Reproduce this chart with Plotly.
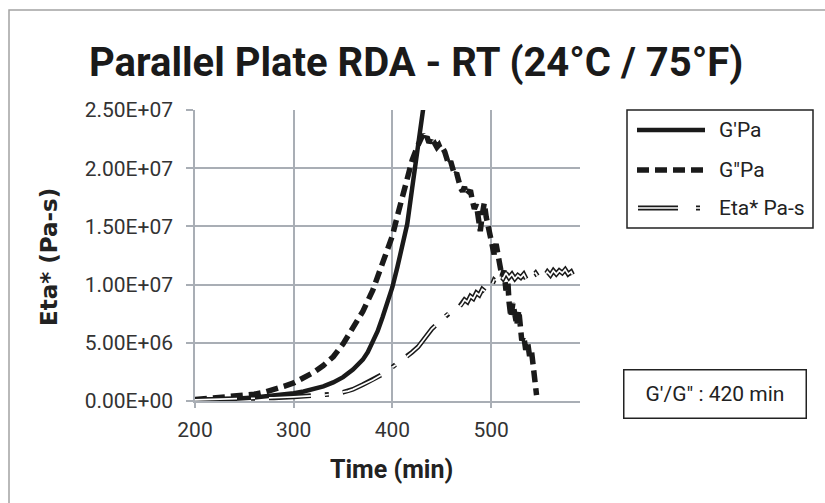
import plotly.graph_objects as go

# ---------------- data ----------------
gp_time = [200, 220, 240, 260, 280, 300, 310, 320, 330, 340, 350, 360, 365, 370, 375, 380,
           385, 390, 395, 400, 405, 410, 415, 420, 425, 430, 435, 440]
gp_vals = [0.08e6, 0.12e6, 0.2e6, 0.3e6, 0.45e6, 0.67e6, 0.82e6, 1.0e6, 1.25e6, 1.6e6, 2.05e6,
           2.7e6, 3.1e6, 3.55e6, 4.2e6, 5.0e6, 6.0e6, 7.2e6, 8.5e6, 9.8e6, 11.5e6, 13.3e6,
           15.2e6, 18.3e6, 21.4e6, 24.5e6, 27.7e6, 30.5e6]

gpp_time = [200, 210, 220, 230, 240, 250, 260, 270, 280, 290, 300, 310, 320, 330, 340, 350,
            360, 370, 380, 385, 390, 395, 400, 405, 410, 415, 420, 425, 428, 431, 433, 435,
            437, 439, 441, 443, 445, 447, 449, 451, 453, 455, 457, 459, 461, 463, 465, 467,
            469, 471, 473, 475, 477, 479, 481, 483, 485, 487, 489, 491, 493, 495, 497, 499,
            501, 503, 505, 507, 509, 511, 513, 515, 517, 518, 520, 522, 524, 526, 528, 530,
            531, 533, 535, 537, 539, 541, 543, 544, 545, 546]
gpp_vals = [0.12e6, 0.18e6, 0.25e6, 0.3e6, 0.37e6, 0.45e6, 0.58e6, 0.75e6, 0.95e6, 1.25e6,
            1.55e6, 1.95e6, 2.45e6, 3.05e6, 3.8e6, 4.9e6, 6.2e6, 7.7e6, 9.5e6, 10.6e6, 11.8e6,
            13.0e6, 14.2e6, 15.9e6, 17.5e6, 19.1e6, 20.7e6, 21.8e6, 22.4e6, 22.9e6, 22.5e6,
            22.7e6, 22.2e6, 22.4e6, 21.9e6, 22.1e6, 21.8e6, 22.0e6, 21.6e6, 21.7e6, 21.4e6,
            20.9e6, 20.3e6, 20.6e6, 19.8e6, 19.4e6, 19.6e6, 18.7e6, 18.3e6, 18.0e6, 18.4e6,
            17.7e6, 17.9e6, 18.1e6, 17.2e6, 16.5e6, 16.9e6, 15.5e6, 14.6e6, 16.0e6, 17.0e6,
            15.8e6, 15.0e6, 14.2e6, 13.6e6, 12.6e6, 13.5e6, 12.2e6, 11.6e6, 10.7e6, 11.2e6,
            9.5e6, 10.2e6, 8.6e6, 7.2e6, 8.4e6, 7.0e6, 6.5e6, 7.8e6, 6.6e6, 5.2e6, 5.6e6,
            4.4e6, 5.0e6, 3.8e6, 4.2e6, 3.0e6, 2.2e6, 1.4e6, 0.5e6]

eta_time = [200, 220, 240, 260, 280, 300, 310, 320, 330, 340, 350, 355, 360, 370, 380, 390,
            395, 400, 410, 420, 426, 430, 440, 450, 455, 460, 467, 470, 473, 476, 479, 482,
            485, 488, 491, 494, 497, 500, 503, 506, 509, 512, 515, 518, 521, 524, 527, 530,
            533, 536, 539, 542, 545, 548, 551, 554, 557, 560, 563, 566, 569, 572, 575, 578,
            581, 584, 587, 590]
eta_vals = [0.1e6, 0.13e6, 0.17e6, 0.22e6, 0.28e6, 0.36e6, 0.4e6, 0.43e6, 0.5e6, 0.6e6,
            0.75e6, 0.85e6, 1.0e6, 1.4e6, 1.8e6, 2.3e6, 2.6e6, 2.9e6, 3.5e6, 4.2e6, 4.65e6,
            5.1e6, 6.2e6, 7.0e6, 7.4e6, 7.7e6, 8.0e6, 8.3e6, 8.7e6, 8.5e6, 9.0e6, 8.8e6,
            9.3e6, 9.1e6, 9.6e6, 9.4e6, 9.9e6, 9.8e6, 10.4e6, 10.2e6, 10.8e6, 10.5e6, 11.0e6,
            10.6e6, 10.9e6, 10.5e6, 10.8e6, 10.6e6, 10.9e6, 10.4e6, 10.8e6, 10.7e6, 11.0e6,
            10.6e6, 10.9e6, 10.7e6, 11.1e6, 10.8e6, 11.2e6, 10.9e6, 11.2e6, 11.0e6, 11.3e6,
            10.9e6, 11.1e6, 10.6e6, 10.8e6, 10.5e6]

x_ticks = [200, 300, 400, 500]
y_ticks = [0, 5e6, 1e7, 1.5e7, 2e7, 2.5e7]
y_tick_text = ["0.00E+00", "5.00E+06", "1.00E+07", "1.50E+07", "2.00E+07", "2.50E+07"]
series_names = ["G'Pa", 'G"Pa', "Eta* Pa-s"]

# ---------------- layout helpers ----------------
W, H = 825, 503
L, R, T, B = 195, 245, 110, 102
PW, PH = W - L - R, H - T - B


def px(x):
    return (x - L) / PW


def py(y):
    return (H - B - y) / PH


GRID = "#A9AEB5"
ETA_DASH = "42px,14px,4px,14px"
FONT = "Roboto, Liberation Sans, sans-serif"

fig = go.Figure()
fig.add_trace(go.Scatter(x=gp_time, y=gp_vals, mode="lines", name=series_names[0],
                         line=dict(color="#1a1a1a", width=4.5), showlegend=False))
fig.add_trace(go.Scatter(x=gpp_time, y=gpp_vals, mode="lines", name=series_names[1],
                         line=dict(color="#1a1a1a", width=5.5, dash="12px,6px"),
                         showlegend=False))
fig.add_trace(go.Scatter(x=eta_time, y=eta_vals, mode="lines", name=series_names[2],
                         line=dict(color="#1a1a1a", width=4.8, dash=ETA_DASH),
                         showlegend=False))
fig.add_trace(go.Scatter(x=eta_time, y=eta_vals, mode="lines", name=series_names[2],
                         line=dict(color="white", width=1.7, dash=ETA_DASH),
                         showlegend=False, hoverinfo="skip"))

tickfont = dict(family=FONT, size=21, color="#333333")

fig.update_layout(
    width=W, height=H,
    margin=dict(l=L, r=R, t=T, b=B, pad=0),
    paper_bgcolor="white", plot_bgcolor="white",
    xaxis=dict(range=[200, 590], tickvals=x_ticks, showgrid=True, gridcolor=GRID,
               gridwidth=1.5, showline=True, linecolor=GRID, linewidth=1.5,
               ticks="outside", ticklen=5, tickcolor=GRID, tickwidth=1.5,
               zeroline=False, tickfont=tickfont, ticklabelstandoff=4),
    yaxis=dict(range=[0, 2.5e7], tickvals=y_ticks, ticktext=y_tick_text, showgrid=True,
               gridcolor=GRID, gridwidth=1.5, showline=True, linecolor=GRID,
               linewidth=1.5, ticks="outside", ticklen=7, tickcolor=GRID, tickwidth=1.5,
               zeroline=False, tickfont=tickfont, ticklabelstandoff=9),
    showlegend=False,
)

shapes = []
# outer chart border (only left/top visible)
shapes.append(dict(type="rect", xref="paper", yref="paper", x0=px(9), y0=py(10),
                   x1=px(860), y1=py(540), line=dict(color="#A3A3A3", width=1.5)))
# legend box
shapes.append(dict(type="rect", xref="paper", yref="paper", x0=px(627), y0=py(110),
                   x1=px(813), y1=py(228), line=dict(color="#222222", width=1.5)))
shapes.append(dict(type="line", xref="paper", yref="paper", x0=px(637), x1=px(705),
                   y0=py(130), y1=py(130), line=dict(color="#1a1a1a", width=4.5)))
shapes.append(dict(type="line", xref="paper", yref="paper", x0=px(637), x1=px(705),
                   y0=py(170), y1=py(170), line=dict(color="#1a1a1a", width=5.5,
                                                       dash="12px,6px")))
shapes.append(dict(type="line", xref="paper", yref="paper", x0=px(638), x1=px(700),
                   y0=py(208), y1=py(208), line=dict(color="#1a1a1a", width=4.8,
                                                       dash="40px,18px,4px,30px")))
shapes.append(dict(type="line", xref="paper", yref="paper", x0=px(638), x1=px(700),
                   y0=py(208), y1=py(208), line=dict(color="white", width=1.7,
                                                       dash="40px,18px,4px,30px")))
fig.update_layout(shapes=shapes)

lab_font = dict(family=FONT, size=21, color="#222222")
ann = []
for name, yy in zip(series_names, [130, 170, 208]):
    ann.append(dict(x=px(717), y=py(yy), xref="paper", yref="paper", text=name,
                    showarrow=False, xanchor="left", yanchor="middle", font=lab_font))
# title
ann.append(dict(x=px(416), y=py(63), xref="paper", yref="paper",
                text="<b>Parallel Plate RDA - RT (24°C / 75°F)</b>", showarrow=False,
                xanchor="center", yanchor="middle",
                font=dict(family=FONT, size=40, color="#1a1a1a")))
# axis titles
ann.append(dict(x=px(391), y=py(469), xref="paper", yref="paper", text="<b>Time (min)</b>",
                showarrow=False, xanchor="center", yanchor="middle",
                font=dict(family=FONT, size=25, color="#222222")))
ann.append(dict(x=px(49), y=py(257), xref="paper", yref="paper", text="<b>Eta* (Pa-s)</b>",
                showarrow=False, xanchor="center", yanchor="middle", textangle=-90,
                font=dict(family="DejaVu Sans, Verdana, sans-serif", size=23,
                          color="#222222")))
# crossover box
ann.append(dict(x=px(714.5), y=py(393.5), xref="paper", yref="paper",
                text='G\'/G" : 420 min', showarrow=False, xanchor="center",
                yanchor="middle", width=181, height=47, bordercolor="#222222",
                borderwidth=1.5, borderpad=0, font=lab_font))
fig.update_layout(annotations=ann)

fig.write_html("out.html", config={"displayModeBar": False},
               post_script="document.body.style.margin='0';"
                           "document.body.style.overflow='hidden';")
